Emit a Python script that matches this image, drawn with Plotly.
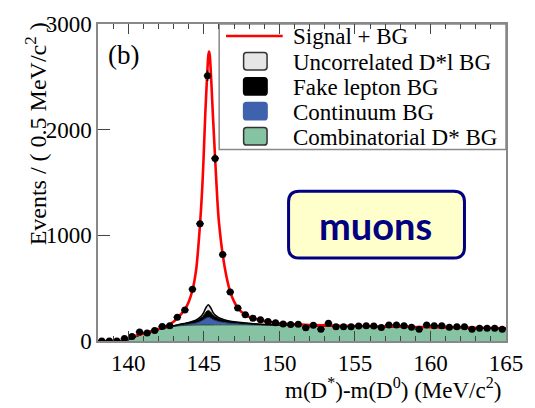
import numpy as np
import plotly.graph_objects as go

# ---- data: m(D*) - m(D0) spectrum, 0.5 MeV/c^2 bins ----
bin_centers = [138.25 + 0.5 * i for i in range(54)]
events = [0, 0, 0, 23, 42, 86, 75, 100, 138, 145,
          225, 293, 490, 1110, 2510, 1728, 818, 464, 312, 248,
          216, 202, 184, 173, 162, 155, 158, 126, 148, 112,
          167, 136, 136, 136, 142, 145, 142, 127, 152, 152,
          145, 130, 112, 152, 145, 145, 130, 136, 136, 112,
          121, 121, 121, 112]

# ---- fit result: signal + all backgrounds ----
fit_x = [138.0, 139.5, 139.6, 140.0, 140.5, 141.0, 141.5, 142.0, 142.5, 143.0,
         143.25, 143.5, 143.75, 144.0, 144.25, 144.5, 144.75, 144.9, 145.0, 145.1,
         145.2, 145.3, 145.35, 145.4, 145.5, 145.6, 145.75, 145.9, 146.0, 146.25,
         146.5, 146.75, 147.0, 147.25, 147.5, 147.75, 148.0, 148.5, 149.0, 149.5,
         150.0, 151.0, 152.0, 154.0, 156.0, 158.0, 160.0, 162.0, 164.0, 165.0]
fit_y = [0, 0, 3, 25, 50, 72, 92, 115, 140, 182,
         218, 255, 300, 370, 480, 680, 1100, 1450, 1780, 2150,
         2450, 2700, 2740, 2700, 2450, 2150, 1730, 1330, 1130, 820,
         610, 465, 375, 312, 275, 250, 228, 205, 188, 176,
         167, 157, 151, 145, 140, 135, 131, 127, 123, 121]

# ---- background components (stacked bottom to top) ----
bg_x = [138.0, 139.5, 139.6, 140.0, 140.5, 141.0, 141.5, 142.0, 142.5, 143.0,
        143.5, 144.0, 144.5, 144.8, 145.0, 145.15, 145.3, 145.45, 145.6, 145.8,
        146.0, 146.3, 146.6, 147.0, 147.5, 148.0, 148.5, 149.0, 150.0, 151.0,
        152.0, 154.0, 156.0, 158.0, 160.0, 162.0, 164.0, 165.0]
combinatorial = [0, 0, 2, 15, 42, 68, 88, 108, 125, 138,
                 145, 149, 151, 152, 152, 152, 152, 152, 152, 153,
                 153, 153, 153, 153, 153, 152, 152, 151, 150, 147,
                 144, 140, 136, 132, 129, 125, 121, 119]
continuum = [0, 0, 0, 0, 0, 0, 0, 0, 1, 3,
             6, 10, 20, 35, 50, 65, 72, 65, 52, 40,
             32, 24, 18, 13, 8, 5, 3, 2, 1, 1,
             1, 1, 1, 1, 1, 1, 1, 1]
fake_lepton = [0, 0, 0, 0, 0, 0, 0, 0, 1, 4,
               8, 14, 22, 32, 45, 58, 65, 58, 45, 34,
               28, 22, 18, 15, 12, 9, 6, 4, 2, 1,
               0, 0, 0, 0, 0, 0, 0, 0]
uncorrelated = [0, 0, 0, 0, 0, 0, 0, 0, 0, 0,
                1, 3, 6, 12, 25, 42, 55, 42, 25, 13,
                8, 5, 3, 2, 1, 1, 0, 0, 0, 0,
                0, 0, 0, 0, 0, 0, 0, 0]

x_ticks = [140, 145, 150, 155, 160, 165]
y_ticks = [0, 1000, 2000, 3000]

legend_labels = ["Signal + BG", "Uncorrelated D*l BG", "Fake lepton BG",
                 "Continuum BG", "Combinatorial D* BG"]

# ---- page geometry (pixels) ----
W, H = 535, 408
L, R, T, B = 98.0, 515.5, 14.7, 341.5
SERIF = "Liberation Serif, Times New Roman, serif"


def px(xp):
    return (xp - L) / (R - L)


def py(yp):
    return (B - yp) / (B - T)


def rounded_box(x0, x1, y0, y1, r):
    return (f"M {px(x0 + r)},{py(y0)} L {px(x1 - r)},{py(y0)} Q {px(x1)},{py(y0)} {px(x1)},{py(y0 + r)} "
            f"L {px(x1)},{py(y1 - r)} Q {px(x1)},{py(y1)} {px(x1 - r)},{py(y1)} "
            f"L {px(x0 + r)},{py(y1)} Q {px(x0)},{py(y1)} {px(x0)},{py(y1 - r)} "
            f"L {px(x0)},{py(y0 + r)} Q {px(x0)},{py(y0)} {px(x0 + r)},{py(y0)} Z")


fig = go.Figure()

bg_styles = [
    (combinatorial, "#86C3A3", "#2a4a3a", 1.0),
    (continuum, "#3E62AD", "#1b2f66", 1.0),
    (fake_lepton, "#000000", "#000000", 1.0),
    (uncorrelated, "#E6E6E6", "#000000", 1.5),
]
for vals, fillc, linec, lw in bg_styles:
    fig.add_trace(go.Scatter(
        x=bg_x, y=vals, stackgroup="bg", mode="lines",
        fillcolor=fillc, line=dict(color=linec, width=lw, shape="spline", smoothing=0.6),
        showlegend=False, hoverinfo="skip"))

fig.add_trace(go.Scatter(
    x=fit_x, y=fit_y, mode="lines",
    line=dict(color="#FF0000", width=2.6, shape="spline", smoothing=0.7),
    showlegend=False))

fig.add_trace(go.Scatter(
    x=bin_centers, y=events, mode="markers",
    marker=dict(color="black", size=7),
    error_y=dict(type="data", array=list(np.sqrt(events)), color="black", thickness=1.5, width=0),
    error_x=dict(type="constant", value=0.25, color="black", thickness=1.5, width=0),
    showlegend=False))

shapes = []
annotations = []

# legend frame
shapes.append(dict(type="rect", xref="paper", yref="paper", layer="below",
                   x0=px(222), x1=px(515.5), y0=py(144), y1=py(T),
                   fillcolor="white", line=dict(color="#888888", width=1.5)))
# legend: fit line
shapes.append(dict(type="line", xref="paper", yref="paper",
                   x0=px(229), x1=px(287), y0=py(27), y1=py(27),
                   line=dict(color="#FF0000", width=2.6)))
# legend: filled swatches
swatches = [("#E6E6E6", "#333333"), ("#000000", "#000000"),
            ("#3E62AD", "#3E62AD"), ("#86C3A3", "#333333")]
row_y = [27, 53, 79, 104.5, 130.5]
for (fc, lc), yc in zip(swatches, row_y[1:]):
    shapes.append(dict(type="path", xref="paper", yref="paper",
                       path=rounded_box(247, 271, yc - 9, yc + 9, 3),
                       fillcolor=fc, line=dict(color=lc, width=1.5)))
for label, yc in zip(legend_labels, row_y):
    annotations.append(dict(xref="paper", yref="paper", x=px(296), y=py(yc + 1),
                            xanchor="left", yanchor="middle", showarrow=False,
                            text=label, font=dict(family=SERIF, size=23, color="black")))

# "muons" label box
shapes.append(dict(type="path", xref="paper", yref="paper",
                   path=rounded_box(293, 473, 187, 256, 11),
                   fillcolor="#FFFFCC", line=dict(color="#000080", width=3)))
annotations.append(dict(xref="paper", yref="paper", x=px(382), y=py(222),
                        xanchor="center", yanchor="middle", showarrow=False,
                        text="<b>muons</b>", font=dict(family="Lato, sans-serif", size=38, color="#000080")))

# panel tag
annotations.append(dict(xref="paper", yref="paper", x=px(106), y=py(47),
                        xanchor="left", yanchor="middle", showarrow=False,
                        text="(b)", font=dict(family=SERIF, size=27, color="black")))

# axis titles
annotations.append(dict(xref="paper", yref="paper", x=px(512), y=py(390),
                        xanchor="right", yanchor="middle", showarrow=False,
                        text="m(D<sup>*</sup>)-m(D<sup>0</sup>) (MeV/c<sup>2</sup>)",
                        font=dict(family=SERIF, size=23, color="black")))
annotations.append(dict(xref="paper", yref="paper", x=px(34), y=py(11),
                        xanchor="center", yanchor="top", textangle=-90, showarrow=False,
                        text="Events / ( 0.5 MeV/c<sup>2</sup> )",
                        font=dict(family=SERIF, size=24, color="black")))

fig.update_layout(
    width=W, height=H,
    margin=dict(l=L, r=W - R, t=T, b=H - B, pad=0),
    paper_bgcolor="white", plot_bgcolor="white",
    showlegend=False,
    shapes=shapes, annotations=annotations,
    font=dict(family=SERIF, size=23, color="black"),
)
fig.update_xaxes(
    range=[138, 165], tickvals=x_ticks, ticks="inside", ticklen=10, tickwidth=1.2,
    tickcolor="#444444", showline=True, linecolor="#888888", linewidth=1.5,
    mirror="ticks", showgrid=False, zeroline=False, ticklabelstandoff=1,
    minor=dict(dtick=1, ticks="inside", ticklen=5, tickwidth=1.2, tickcolor="#444444", showgrid=False),
    tickfont=dict(family=SERIF, size=23, color="black"),
)
fig.update_yaxes(
    range=[0, 3000], tickvals=y_ticks, ticks="inside", ticklen=12, tickwidth=1.2,
    tickcolor="#444444", showline=True, linecolor="#888888", linewidth=1.5,
    mirror=True, showgrid=False, zeroline=False,
    tickfont=dict(family=SERIF, size=23, color="black"),
)

fig.write_html("out.html")
